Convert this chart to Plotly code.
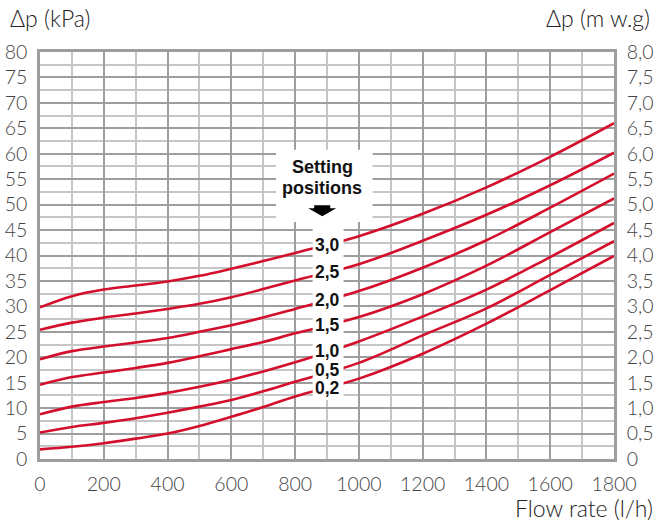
import plotly.graph_objects as go

# ---- data ----
flow = [0, 100, 200, 300, 400, 500, 600, 700, 800, 1000, 1200, 1400, 1600, 1800]

dp_30 = [29.8, 32.0, 33.3, 34.1, 34.9, 36.0, 37.4, 38.9, 40.5, 43.8, 48.2, 53.4, 59.4, 66.0]
dp_25 = [25.4, 26.8, 27.8, 28.6, 29.5, 30.5, 31.8, 33.4, 35.1, 38.3, 42.9, 48.0, 53.8, 60.2]
dp_20 = [19.6, 21.2, 22.1, 22.9, 23.8, 25.0, 26.3, 27.8, 29.5, 33.0, 37.6, 43.0, 49.4, 56.1]
dp_15 = [14.6, 16.1, 17.0, 17.9, 18.9, 20.2, 21.6, 23.0, 24.7, 27.9, 32.4, 38.0, 44.6, 51.2]
dp_10 = [8.8, 10.3, 11.2, 12.0, 13.0, 14.2, 15.6, 17.2, 19.0, 23.1, 28.0, 33.3, 39.7, 46.4]
dp_05 = [5.2, 6.3, 7.1, 8.0, 9.1, 10.3, 11.6, 13.3, 15.2, 18.9, 24.3, 29.6, 36.2, 42.8]
dp_02 = [1.9, 2.4, 3.1, 4.0, 5.0, 6.5, 8.3, 10.2, 12.3, 15.8, 20.7, 26.6, 33.2, 39.9]

series = [dp_30, dp_25, dp_20, dp_15, dp_10, dp_05, dp_02]
setting_labels = ["3,0", "2,5", "2,0", "1,5", "1,0", "0,5", "0,2"]
label_flow = 900
label_dp = [42.0, 36.8, 31.2, 26.3, 21.3, 17.5, 13.9]

x_ticks = [0, 200, 400, 600, 800, 1000, 1200, 1400, 1600, 1800]
y_ticks = [0, 5, 10, 15, 20, 25, 30, 35, 40, 45, 50, 55, 60, 65, 70, 75, 80]
y2_ticks = [0, 0.5, 1, 1.5, 2, 2.5, 3, 3.5, 4, 4.5, 5, 5.5, 6, 6.5, 7, 7.5, 8]
y2_ticktext = ["0", "0,5", "1,0", "1,5", "2,0", "2,5", "3,0", "3,5", "4,0",
               "4,5", "5,0", "5,5", "6,0", "6,5", "7,0", "7,5", "8,0"]

RED = "#d40f2b"
MAJ = "#9e9e9e"
MIN = "#c6c6c6"
TICKFONT = dict(family="Lato", size=19.5, color="#444444", weight=300)
TITLEFONT = dict(family="Lato", size=23, color="#222", weight=300)
BOLD = "Liberation Sans"

fig = go.Figure()
for s in series:
    fig.add_trace(go.Scatter(x=flow, y=s, mode="lines",
                             line=dict(color=RED, width=2.6, shape="spline", smoothing=1.0),
                             hoverinfo="skip", showlegend=False))
# invisible trace to activate right axis
fig.add_trace(go.Scatter(x=[0, 1800], y=[0, 8], yaxis="y2", mode="lines",
                         line=dict(width=0), opacity=0, hoverinfo="skip", showlegend=False))

# white masks: label column + "Setting positions" box
fig.add_shape(type="rect", x0=855, x1=952, y0=11.6, y1=46.7, xref="x", yref="y",
              fillcolor="white", line=dict(width=0), layer="above")
fig.add_shape(type="rect", x0=740, x1=1043, y0=46.6, y1=60.8, xref="x", yref="y",
              fillcolor="white", line=dict(width=0), layer="above")
# down arrow
fig.add_shape(type="path", xref="x", yref="y", xsizemode="pixel", ysizemode="pixel",
              xanchor=885, yanchor=49.9,
              path="M -8 0 L 8 0 L 8 -3 L 14 -3 L 0 -11 L -14 -3 L -8 -3 Z",
              fillcolor="black", line=dict(width=0), layer="above")

for t, yv in zip(setting_labels, label_dp):
    fig.add_annotation(x=label_flow, y=yv, text="<b>%s</b>" % t, showarrow=False,
                       font=dict(family=BOLD, size=17.5, color="#111"), xanchor="center", yanchor="middle")
fig.add_annotation(x=885, y=57.4, text="<b>Setting</b>", showarrow=False,
                   font=dict(family=BOLD, size=18, color="#111"))
fig.add_annotation(x=885, y=53.2, text="<b>positions</b>", showarrow=False,
                   font=dict(family=BOLD, size=18, color="#111"))

fig.add_annotation(xref="paper", yref="paper", x=-0.0557, y=1.0835, xanchor="left", yanchor="middle",
                   text="Δp (kPa)", showarrow=False, font=TITLEFONT)
fig.add_annotation(xref="paper", yref="paper", x=1.066, y=1.0835, xanchor="right", yanchor="middle",
                   text="Δp (m w.g)", showarrow=False, font=TITLEFONT)
fig.add_annotation(xref="paper", yref="paper", x=1.0714, y=-0.12, xanchor="right", yanchor="middle",
                   text="Flow rate (l/h)", showarrow=False, font=TITLEFONT)

fig.update_layout(
    width=658, height=522,
    margin=dict(l=40, r=44, t=52, b=63, autoexpand=False),
    paper_bgcolor="white", plot_bgcolor="white",
    xaxis=dict(range=[0, 1800], tickvals=x_ticks, ticktext=[str(v) for v in x_ticks],
               showgrid=True, gridcolor=MAJ, gridwidth=2,
               minor=dict(dtick=100, showgrid=True, gridcolor=MIN, gridwidth=1.5),
               showline=True, linecolor=MAJ, linewidth=2.5, mirror=True, automargin=False,
               ticks="", tickfont=TICKFONT, ticklabelstandoff=6, zeroline=False, fixedrange=True),
    yaxis=dict(range=[0, 80], tickvals=y_ticks, ticktext=[str(v) for v in y_ticks],
               showgrid=True, gridcolor=MAJ, gridwidth=2,
               minor=dict(dtick=2.5, showgrid=True, gridcolor=MIN, gridwidth=1.5),
               showline=True, linecolor=MAJ, linewidth=2.5, automargin=False,
               ticks="", tickfont=TICKFONT, ticklabelstandoff=6, zeroline=False),
    yaxis2=dict(range=[0, 8], overlaying="y", side="right", tickvals=y2_ticks, ticktext=y2_ticktext,
                showgrid=False, showline=True, linecolor=MAJ, linewidth=2.5, automargin=False,
                ticks="", tickfont=TICKFONT, ticklabelstandoff=6, zeroline=False),
)

fig.write_html("out.html", config={"displayModeBar": False},
               post_script="document.body.style.margin='0';document.body.style.overflow='hidden';")
